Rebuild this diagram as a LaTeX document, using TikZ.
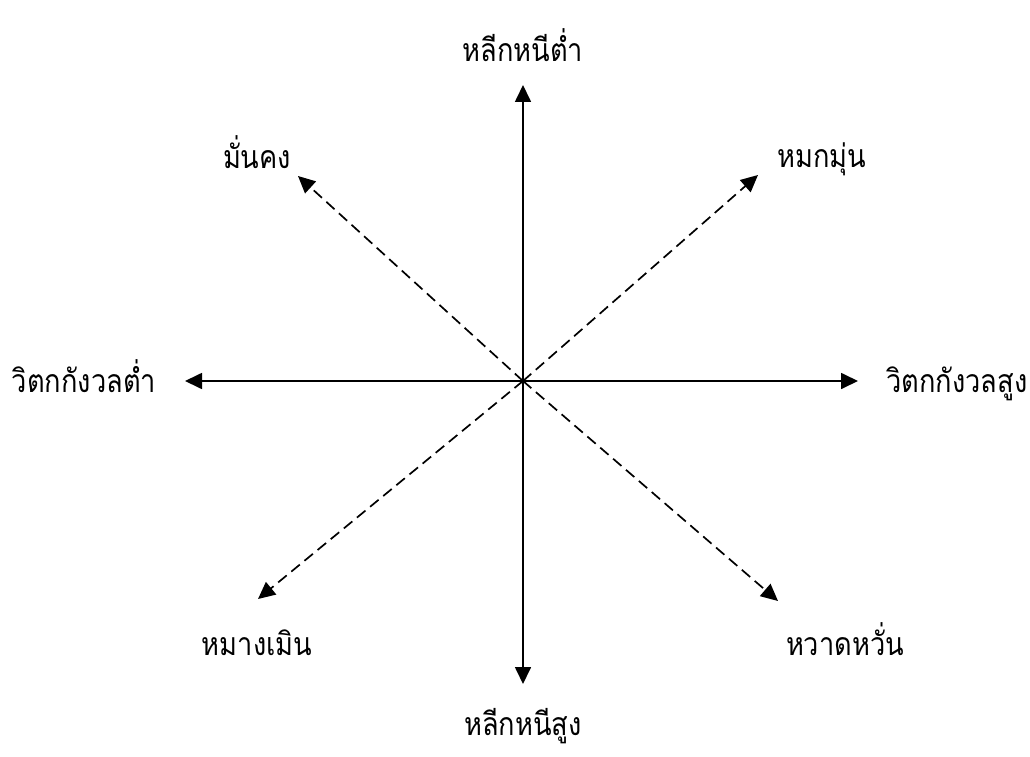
\documentclass[tikz,border=0pt]{standalone}
\usepackage{fontspec}
\usetikzlibrary{arrows.meta}
\newfontfamily\thaifont[Script=Thai,FakeStretch=0.85]{Loma}

\begin{document}
\begin{tikzpicture}[x=1pt,y=-1pt,line width=1.7pt,font=\thaifont\fontsize{32}{38}\selectfont,
  axis/.style={-{Triangle[length=17pt,width=16pt]}},
  diag/.style={axis,dash pattern=on 11pt off 6pt},
  lbl/.style={anchor=base,inner sep=0pt}]
\useasboundingbox (0,0) rectangle (1030,757);
\coordinate (O) at (523,381);
\coordinate (N) at (523,85);
\coordinate (S) at (523,684);
\coordinate (W) at (185,381);
\coordinate (E) at (858,381);
\coordinate (NW) at (298,176);
\coordinate (NE) at (758,175);
\coordinate (SW) at (258,599);
\coordinate (SE) at (778,601);
\draw[axis] (O)--(N);
\draw[axis] (O)--(S);
\draw[axis] (O)--(W);
\draw[axis] (O)--(E);
\draw[diag] (O)--(NW);
\draw[diag] (O)--(NE);
\draw[diag] (O)--(SW);
\draw[diag] (O)--(SE);
\node[lbl] (lN) at (523,62) {หลีกหนีต่ำ};
\node[lbl] (lS) at (523,735) {หลีกหนีสูง};
\node[lbl] (lW) at (84,392) {วิตกกังวลต่ำ};
\node[lbl] (lE) at (957,392) {วิตกกังวลสูง};
\node[lbl] (lNW) at (257,168) {มั่นคง};
\node[lbl] (lNE) at (822,167) {หมกมุ่น};
\node[lbl] (lSW) at (257,655) {หมางเมิน};
\node[lbl] (lSE) at (845,655) {หวาดหวั่น};
\end{tikzpicture}
\end{document}
